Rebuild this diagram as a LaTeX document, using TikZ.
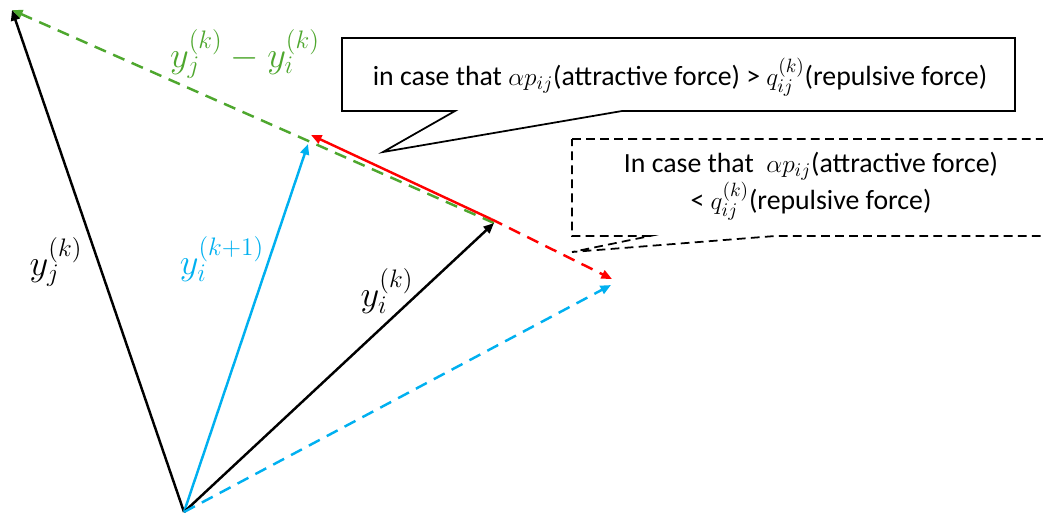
\documentclass[tikz,border=0pt]{standalone}
\usepackage{fontspec}
\setmainfont{Carlito}
\usepackage{tikz}
\usetikzlibrary{arrows.meta,positioning}
\definecolor{vecblue}{HTML}{00B0F0}
\definecolor{vecgreen}{HTML}{4EA72E}
\definecolor{vecred}{HTML}{FF0000}
\tikzset{
  vec/.style={-{Triangle[length=6pt,width=5pt]}, line width=1.4pt},
  vecdash/.style={vec, dash pattern=on 7pt off 4.5pt},
  veclabel/.style={font=\fontsize{22}{26}\selectfont, inner sep=1pt},
  % the two speech boxes
  callout/.style={draw=black, fill=white, line width=1pt, line join=miter},
  calltext/.style={font=\fontsize{15.8}{19.5}\selectfont, align=center, inner sep=0pt},
}
\begin{document}
\begin{tikzpicture}[x=0.02cm,y=-0.02cm]
  \useasboundingbox (0,0) rectangle (1043,512);
  \clip (0,0) rectangle (1043,512);
  % end points of the vectors
  \coordinate (O) at (184,512);
  \coordinate (Yj) at (12,10);
  \coordinate (Yi) at (494,223);
  \coordinate (Yn) at (308,144);
  \coordinate (Rs) at (491,219);
  \coordinate (Rt) at (311,135);
  \coordinate (Rd) at (612,279);
  \coordinate (Bd) at (611,285);
  % vectors
  \draw[vecdash, color=vecgreen] (Yi) -- (Yj);
  \draw[vec] (O) -- (Yj);
  \draw[vec, color=vecblue] (O) -- (Yn);
  \draw[vec] (O) -- (Yi);
  \draw[vec, color=vecred] (Rs) -- (Rt);
  \draw[vecdash, color=vecred] (Rs) -- (Rd);
  \draw[vecdash, color=vecblue] (O) -- (Bd);
  \node[veclabel, text=vecgreen] (diff) at (245,54) {$y_j^{(k)}-y_i^{(k)}$};
  \node[veclabel] (lyj) at (56,262) {$y_j^{(k)}$};
  \node[veclabel, text=vecblue] (lyn) at (222,259) {$y_i^{(k+1)}$};
  \node[veclabel] (lyi) at (387,291) {$y_i^{(k)}$};
  % attractive case
  \draw[callout] (342,38) -- (1015,38) -- (1015,111) -- (622,111) -- (383,152)
      -- (455,111) -- (342,111) -- cycle;
  \node[calltext] (attr) at (680,77)
      {in case that $\alpha p_{ij}$(attractive force) > $q_{ij}^{(k)}$(repulsive force)};
  % repulsive case
  \draw[callout, dash pattern=on 5pt off 3pt] (572,139) -- (1060,139) -- (1060,236)
      -- (775,236) -- (572,252) -- (650,236) -- (572,236) -- cycle;
  \node[calltext] (rep) at (811,186)
      {In case that\ \ $\alpha p_{ij}$(attractive force)\\ < $q_{ij}^{(k)}$(repulsive force)};
\end{tikzpicture}
\end{document}
